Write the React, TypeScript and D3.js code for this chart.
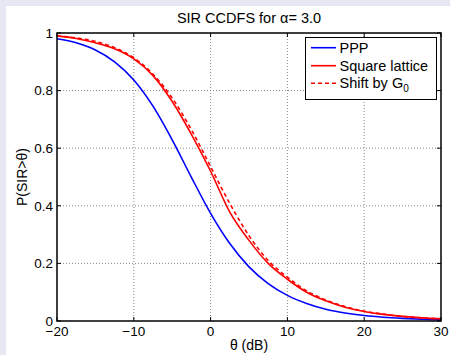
import React from "react";
import * as d3 from "d3";

const thetaDb = [-20, -17.5, -15, -12.5, -10, -7.5, -5, -2.5, 0, 2.5, 5, 7.5, 10, 12.5, 15, 17.5, 20, 22.5, 25, 27.5, 30];
const pppValues = [0.980, 0.966, 0.941, 0.900, 0.837, 0.746, 0.629, 0.499, 0.374, 0.269, 0.188, 0.130, 0.089, 0.061, 0.041, 0.028, 0.019, 0.013, 0.009, 0.006, 0.004];
const latticeValues = [0.990, 0.981, 0.966, 0.945, 0.910, 0.852, 0.762, 0.648, 0.520, 0.378, 0.280, 0.200, 0.145, 0.100, 0.070, 0.048, 0.033, 0.023, 0.016, 0.011, 0.008];
const shiftValues = [0.990, 0.983, 0.971, 0.949, 0.914, 0.857, 0.774, 0.664, 0.536, 0.408, 0.296, 0.210, 0.152, 0.105, 0.073, 0.050, 0.034, 0.024, 0.016, 0.011, 0.008];
const xTicks = [-20, -10, 0, 10, 20, 30];
const yTicks = [0, 0.2, 0.4, 0.6, 0.8, 1];
const seriesNames = ["PPP", "Square lattice", "Shift by G"];

const W = 450;
const H = 355;
const L = 57, R = 441, T = 33, B = 321;
const FONT = "'Liberation Sans', Arial, Helvetica, sans-serif";

export default function App() {
  const x = d3.scaleLinear().domain([-20, 30]).range([L, R]);
  const y = d3.scaleLinear().domain([0, 1]).range([B, T]);
  const line = d3
    .line<number>()
    .x((_, i) => x(thetaDb[i]))
    .y((d) => y(d))
    .curve(d3.curveMonotoneX);

  const fmtX = (v: number) => (v < 0 ? "\u2212" + Math.abs(v) : String(v));
  const fmtY = (v: number) => (v === 0 || v === 1 ? String(v) : v.toFixed(1));

  const series = [
    { name: seriesNames[0], values: pppValues, color: "#0000ff", dash: undefined as string | undefined },
    { name: seriesNames[1], values: latticeValues, color: "#ff0000", dash: undefined },
    { name: seriesNames[2], values: shiftValues, color: "#ff0000", dash: "4,3" },
  ];

  const legX = 305.5, legY = 37.5, legW = 131, legH = 62;
  const rowY = [47.7, 65.7, 83.3];

  return (
    <svg width={W} height={H} style={{ position: "absolute", left: 0, top: 0 }} fontFamily={FONT}>
      <rect x={0} y={0} width={W} height={H} fill="#e7e7f4" />
      <rect x={6} y={6} width={W - 6} height={H - 6} fill="#ffffff" />

      {/* grid */}
      {xTicks.slice(1, -1).map((t) => (
        <line key={"gx" + t} x1={x(t)} x2={x(t)} y1={T} y2={B} stroke="#8a8a8a" strokeWidth={1} strokeDasharray="1,2" />
      ))}
      {yTicks.slice(1, -1).map((t) => (
        <line key={"gy" + t} x1={L} x2={R} y1={y(t)} y2={y(t)} stroke="#8a8a8a" strokeWidth={1} strokeDasharray="1,2" />
      ))}

      {/* curves */}
      {series.map((s) => (
        <path key={s.name} d={line(s.values) || ""} fill="none" stroke={s.color} strokeWidth={1.6} strokeDasharray={s.dash} />
      ))}

      {/* box */}
      <rect x={L} y={T} width={R - L} height={B - T} fill="none" stroke="#000" strokeWidth={1.5} />
      {xTicks.map((t) => (
        <g key={"tx" + t}>
          <line x1={x(t)} x2={x(t)} y1={B} y2={B - 4} stroke="#000" strokeWidth={1} />
          <line x1={x(t)} x2={x(t)} y1={T} y2={T + 4} stroke="#000" strokeWidth={1} />
          <text x={x(t)} y={336} textAnchor="middle" fontSize={13.5} fill="#000">{fmtX(t)}</text>
        </g>
      ))}
      {yTicks.map((t) => (
        <g key={"ty" + t}>
          <line x1={L} x2={L + 4} y1={y(t)} y2={y(t)} stroke="#000" strokeWidth={1} />
          <line x1={R} x2={R - 4} y1={y(t)} y2={y(t)} stroke="#000" strokeWidth={1} />
          <text x={53} y={y(t) + 4.7} textAnchor="end" fontSize={13.5} fill="#000">{fmtY(t)}</text>
        </g>
      ))}

      {/* title and labels */}
      <text x={249} y={22.5} textAnchor="middle" fontSize={14.5} fill="#000">
        SIR CCDFS for α= 3.0
      </text>
      <text x={249} y={350} textAnchor="middle" fontSize={14} fill="#000">θ (dB)</text>
      <text transform={`translate(26.5,${(T + B) / 2}) rotate(-90)`} textAnchor="middle" fontSize={14} fill="#000">
        P(SIR&gt;θ)
      </text>

      {/* legend */}
      <rect x={legX} y={legY} width={legW} height={legH} fill="#fff" stroke="#000" strokeWidth={1} />
      {series.map((s, i) => (
        <g key={"leg" + s.name}>
          <line x1={311} x2={336} y1={rowY[i]} y2={rowY[i]} stroke={s.color} strokeWidth={1.6} strokeDasharray={s.dash} />
          <text x={339.5} y={rowY[i] + 5} fontSize={14.5} fill="#000">
            {s.name}
            {i === 2 ? (
              <tspan fontSize={10} dy={4}>0</tspan>
            ) : null}
          </text>
        </g>
      ))}
    </svg>
  );
}
